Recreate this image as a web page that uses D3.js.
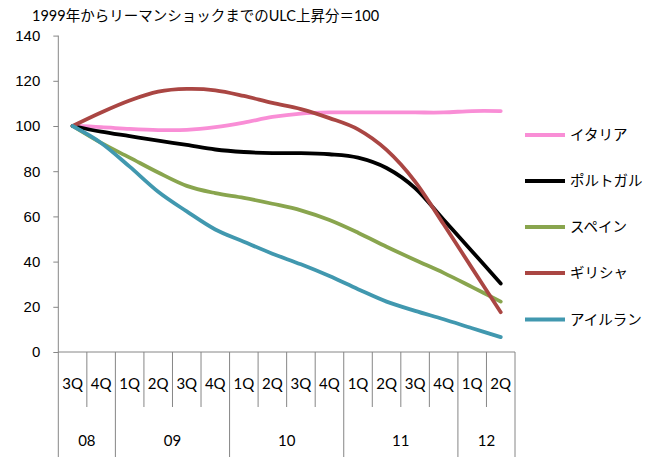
<!DOCTYPE html>
<html>
<head>
<meta charset="utf-8">
<script src="https://cdn.jsdelivr.net/npm/d3@7"></script>
<style>
    body { margin: 0; background: #fff; }
    svg { display: block; font-family: Lato, "Noto Sans CJK JP", sans-serif; }
    .axis path, .axis line { stroke: #868686; }
    .axis text { font-size: 15px; fill: #000; }
</style>
</head>
<body>
<div class="plotWrapper"></div>
<script>
let titleText = "1999年からリーマンショックまでのULC上昇分＝100";

let quarters = ["3Q", "4Q", "1Q", "2Q", "3Q", "4Q", "1Q", "2Q", "3Q", "4Q", "1Q", "2Q", "3Q", "4Q", "1Q", "2Q"];
let years = ["08", "08", "09", "09", "09", "09", "10", "10", "10", "10", "11", "11", "11", "11", "12", "12"];
let yTicks = [0, 20, 40, 60, 80, 100, 120, 140];

let seriesNames = ["イタリア", "ポルトガル", "スペイン", "ギリシャ", "アイルランド"];
let seriesColors = ["#f98ed6", "#000000", "#89a54e", "#aa4643", "#4198af"];

let italy    = [100, 99.5, 98.7, 98.2, 98.3, 99.5, 101.5, 104, 105.5, 106, 106, 106, 106, 106, 106.6, 106.6];
let portugal = [100, 97.5, 95.5, 93.5, 91.6, 89.6, 88.5, 88, 88, 87.5, 86, 81.4, 72.5, 58.5, 44.5, 30.3];
let spain    = [100, 92.5, 86, 79.4, 73.5, 70.3, 68.2, 65.6, 62.7, 58.4, 52.8, 46.6, 40.7, 35, 28.7, 22.3];
let greece   = [100, 106, 111.3, 115.2, 116.4, 115.8, 113.3, 110.2, 107.5, 103.5, 98.5, 89.4, 75.4, 56.5, 37, 17.6];
let ireland  = [100, 92.5, 82, 70.9, 62.2, 54.2, 48.8, 43.5, 38.8, 33.6, 27.8, 22.3, 18.2, 14.5, 10.5, 6.6];

let seriesValues = [italy, portugal, spain, greece, ireland];

let width = 647;
let height = 457;
let plot = {left: 58.3, right: 515, top: 35.6, bottom: 352};

let svg = d3.select(".plotWrapper")
    .append("svg")
    .attr("width", width)
    .attr("height", height);

// the chart frame ends just before the page edge, like the original
svg.append("clipPath")
    .attr("id", "chartClip")
    .append("rect")
    .attr("x", 0)
    .attr("y", 0)
    .attr("width", 643)
    .attr("height", height);

let keys = quarters.map((q, i) => i);

let xScale = d3.scaleBand()
    .domain(keys)
    .range([plot.left, plot.right]);

let yScale = d3.scaleLinear()
    .domain([0, 140])
    .range([plot.bottom, plot.top]);

svg.append("text")
    .attr("x", 32)
    .attr("y", 21)
    .style("font-size", "14.5px")
    .text(titleText);

// y axis
let yAxis = d3.axisLeft(yScale)
    .tickValues(yTicks)
    .tickSize(5)
    .tickPadding(13);

svg.append("g")
    .attr("class", "y axis")
    .attr("transform", "translate(" + plot.left + ",0)")
    .call(yAxis)
    .call(g => g.select(".domain").attr("d", "M0," + plot.top + "V" + plot.bottom));

// x axis: base line and category separators
let xAxisGroup = svg.append("g").attr("class", "x axis");

xAxisGroup.append("line")
    .attr("x1", plot.left)
    .attr("x2", plot.right)
    .attr("y1", plot.bottom)
    .attr("y2", plot.bottom);

let boundaries = keys.concat([keys.length]);
xAxisGroup.selectAll(".sep")
    .data(boundaries)
    .join("line")
    .attr("class", "sep")
    .attr("x1", i => i < keys.length ? xScale(i) : plot.right)
    .attr("x2", i => i < keys.length ? xScale(i) : plot.right)
    .attr("y1", plot.bottom)
    .attr("y2", i => isYearStart(i) ? height : 407);

xAxisGroup.selectAll(".qLabel")
    .data(keys)
    .join("text")
    .attr("class", "qLabel")
    .attr("x", i => xScale(i) + xScale.bandwidth() / 2)
    .attr("y", 388.5)
    .attr("text-anchor", "middle")
    .text(i => quarters[i]);

let yearGroups = d3.groups(keys, i => years[i]);
xAxisGroup.selectAll(".yLabel")
    .data(yearGroups)
    .join("text")
    .attr("class", "yLabel")
    .attr("x", d => (xScale(d[1][0]) + xScale(d[1][d[1].length - 1]) + xScale.bandwidth()) / 2)
    .attr("y", 445.5)
    .attr("text-anchor", "middle")
    .text(d => d[0]);

function isYearStart(i){
    if(i === 0 || i === keys.length) return true;
    return years[i] !== years[i - 1];
}

// lines
let line = d3.line()
    .x((d, i) => xScale(i) + xScale.bandwidth() / 2)
    .y(d => yScale(d))
    .curve(d3.curveCatmullRom.alpha(0));

svg.append("g")
    .selectAll(".series")
    .data(seriesValues)
    .join("path")
    .attr("class", "series")
    .attr("fill", "none")
    .attr("stroke", (d, i) => seriesColors[i])
    .attr("stroke-width", 3.8)
    .attr("stroke-linejoin", "round")
    .attr("stroke-linecap", "round")
    .attr("d", d => line(d));

// legend
let legendY = [135, 181, 227, 273, 319.5];
let legend = svg.append("g")
    .attr("clip-path", "url(#chartClip)")
    .selectAll(".legendItem")
    .data(seriesNames)
    .join("g")
    .attr("class", "legendItem")
    .attr("transform", (d, i) => "translate(525," + legendY[i] + ")");

legend.append("line")
    .attr("x1", 0)
    .attr("x2", 40)
    .attr("stroke", (d, i) => seriesColors[i])
    .attr("stroke-width", 3.8);

legend.append("text")
    .attr("x", 45)
    .attr("y", 5)
    .style("font-size", "14.5px")
    .text(d => d);
</script>
</body>
</html>
